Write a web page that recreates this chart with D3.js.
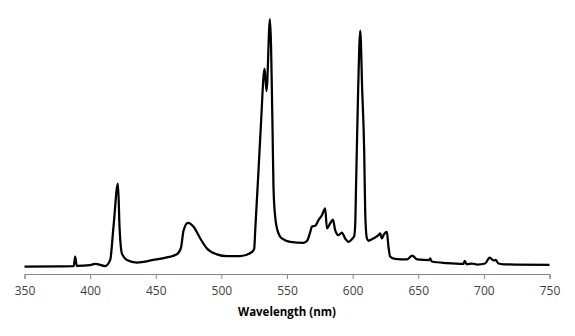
<!DOCTYPE html>
<html>
<head>
<meta charset="utf-8">
<script src="https://cdn.jsdelivr.net/npm/d3@7"></script>
<style>
  html, body { margin: 0; padding: 0; background: #fff; }
  svg { display: block; }
</style>
</head>
<body>
<svg id="chart" width="575" height="336"></svg>
<script>
// Emission spectrum: wavelength (nm) and relative intensity
const wavelengths = [
  350, 377.2, 387.5, 388.6, 389.8, 400.1, 403.9, 411.5, 415.3, 417.8,
  421.2, 422.4, 424.2, 428.0, 435.6, 448.3, 458.5, 466.1, 469.2, 471.1,
  474.5, 478.8, 483.9, 489.0, 496.6, 504.2, 514.3, 523.3, 525.0, 525.8,
  528.3, 530.1, 532.9, 534.4, 537.0, 539.0, 539.7, 541.0, 543.5, 546.1,
  552.4, 562.6, 565.2, 567.7, 569.0, 571.5, 574.0, 576.6, 579.1, 580.4,
  582.9, 585.0, 586.7, 589.3, 591.8, 594.3, 596.9, 599.4, 601.2, 602.0,
  602.7, 604.2, 605.8, 607.3, 608.8, 609.6, 610.9, 612.1, 614.7, 617.2,
  619.7, 621.0, 622.3, 623.5, 626.1, 627.3, 628.6, 632.4, 641.4, 645.4,
  649.2, 658.2, 659.0, 660.3, 671.8, 684.5, 685.4, 686.9, 690.9, 694.9,
  701.0, 704.4, 707.3, 709.0, 711.1, 715.0, 750
];
const intensity = [
  2.85, 3.0, 3.05, 6.8, 3.2, 3.5, 4.0, 3.1, 5.5, 18.5,
  35.4, 18.5, 8.1, 5.5, 4.5, 5.5, 6.5, 7.7, 10.2, 16.8,
  20.0, 18.5, 13.9, 10.0, 7.7, 7.0, 7.0, 8.6, 9.8, 17.2,
  40.6, 58.2, 80.4, 71.6, 99.8, 56.3, 34.1, 22.4, 15.9, 13.9,
  12.6, 12.2, 12.9, 16.4, 18.6, 18.9, 21.1, 23.0, 25.7, 17.9,
  19.8, 21.3, 17.2, 15.2, 16.2, 13.9, 12.6, 13.6, 14.8, 19.9,
  36.7, 71.9, 95.3, 71.9, 48.4, 23.8, 13.9, 13.0, 13.6, 14.3,
  15.2, 15.9, 13.9, 15.2, 16.5, 10.7, 6.8, 5.9, 5.7, 7.2,
  5.7, 5.4, 6.1, 4.9, 4.3, 4.0, 5.1, 3.8, 4.1, 3.7,
  4.1, 6.4, 5.3, 5.5, 4.1, 3.8, 3.6
];
const xTicks = [350, 400, 450, 500, 550, 600, 650, 700, 750];
const xTitle = "Wavelength (nm)";

const svg = d3.select("#chart");
const plotLeft = 24.5, plotRight = 549.5, plotBottom = 274, plotTop = 18.5;

const x = d3.scaleLinear().domain([350, 750]).range([plotLeft, plotRight]);
const y = d3.scaleLinear().domain([0, 100]).range([plotBottom, plotTop]);

// x axis
const axis = svg.append("g")
  .attr("transform", `translate(0,${plotBottom})`)
  .call(d3.axisBottom(x).tickValues(xTicks).tickSize(5).tickPadding(7).tickFormat(d3.format("d")));
axis.select(".domain").attr("stroke", "#868686").attr("stroke-width", 1);
axis.selectAll(".tick line").attr("stroke", "#868686");
axis.selectAll(".tick text")
  .attr("fill", "#404040")
  .style("font-family", "'Open Sans', 'Liberation Sans', sans-serif")
  .style("font-size", "12px");

svg.append("text")
  .attr("x", (plotLeft + plotRight) / 2)
  .attr("y", 316)
  .attr("text-anchor", "middle")
  .attr("fill", "#000")
  .style("font-family", "'Open Sans', 'Liberation Sans', sans-serif")
  .style("font-weight", "bold")
  .style("font-size", "11.5px")
  .text(xTitle);

// spectrum line
const pts = wavelengths.map((w, i) => [w, intensity[i]]);
const line = d3.line()
  .x(d => x(d[0]))
  .y(d => y(d[1]))
  .curve(d3.curveMonotoneX);

svg.append("path")
  .datum(pts)
  .attr("fill", "none")
  .attr("stroke", "#000")
  .attr("stroke-width", 2.25)
  .attr("stroke-linejoin", "round")
  .attr("d", line);
</script>
</body>
</html>
